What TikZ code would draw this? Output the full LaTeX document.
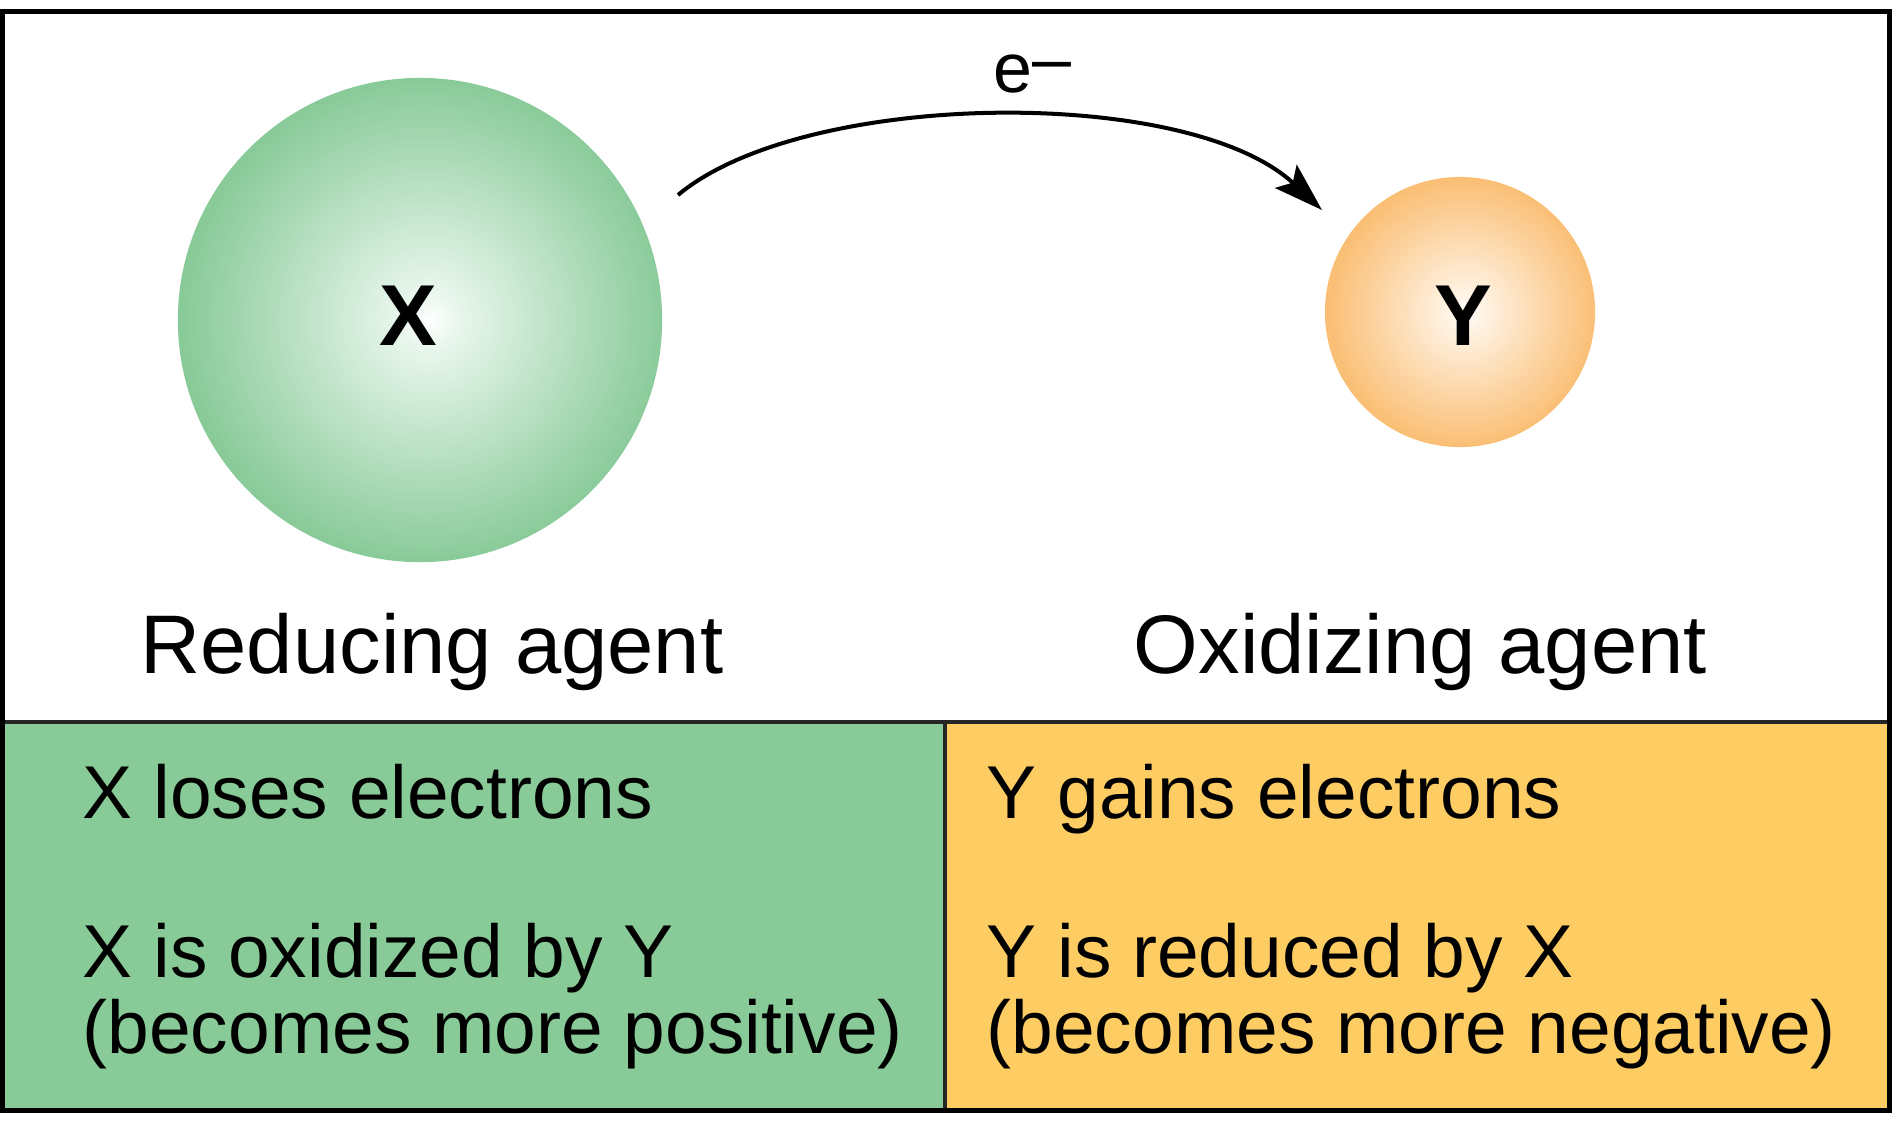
\documentclass[tikz,border=0pt]{standalone}
\usepackage{fontspec}
\setmainfont{Liberation Sans}
\usetikzlibrary{arrows.meta}
\definecolor{gpanel}{RGB}{136,203,152}
\definecolor{opanel}{RGB}{253,204,98}
\definecolor{gedge}{RGB}{137,202,153}
\definecolor{oedge}{RGB}{250,190,116}
\definecolor{gmid}{RGB}{232,246,236}
\definecolor{omid}{RGB}{255,244,230}
\pgfdeclareradialshading{gball}{\pgfpoint{1bp}{0bp}}{color(0bp)=(white); color(3bp)=(gmid); color(25bp)=(gedge); color(50bp)=(gedge)}
\pgfdeclareradialshading{oball}{\pgfpoint{1bp}{0bp}}{color(0bp)=(white); color(3bp)=(omid); color(25bp)=(oedge); color(50bp)=(oedge)}
\begin{document}
\begin{tikzpicture}[x=0.01cm,y=-0.01cm,
  framebox/.style={draw=black,line width=1.42pt},
  divider/.style={draw=black!85,line width=1pt},
  ball/.style={circle,inner sep=0pt,draw=none},
  balllabel/.style={font=\fontsize{24.6pt}{28pt}\selectfont\bfseries,anchor=base,inner sep=0pt},
  agent/.style={font=\fontsize{23.65pt}{28pt}\selectfont,anchor=base west,inner sep=0pt},
  btext/.style={font=\fontsize{21.3pt}{25pt}\selectfont,anchor=base west,inner sep=0pt},
  elabel/.style={font=\fontsize{19.9pt}{24pt}\selectfont,anchor=base west,inner sep=0pt},
  electron/.style={draw=black,line width=1.14pt,-{Stealth[length=14pt,width=9pt,inset=2.6pt]}}]
\useasboundingbox (0,0) rectangle (1894,1120);
\fill[white] (0,0) rectangle (1894,1120);
% bottom panels
\fill[gpanel] (2.5,722) rectangle (945,1110.5);
\fill[opanel] (945,722) rectangle (1889,1110.5);
% spheres
\node[ball,minimum size=4.84cm,shading=gball] (X) at (420,320) {};
\node[ball,minimum size=2.70cm,shading=oball] (Y) at (1460,312) {};
\node[balllabel] (xlab) at (408,345) {X};
\node[balllabel] (ylab) at (1463,345) {Y};
% electron transfer arrow
\coordinate (a0) at (678,195);
\coordinate (a1) at (1322,210);
\draw[electron] (a0) .. controls (804,89.5) and (1188,85) .. (a1);
\node[elabel] (elab) at (993,92) {e\raisebox{0.13em}{–}};
% agent labels
\node[agent] (red) at (140,673) {Reducing agent};
\node[agent] (oxi) at (1133,673) {Oxidizing agent};
% panel texts
\node[btext] (l1) at (82,818) {X loses electrons};
\node[btext] (l2) at (82,977) {X is oxidized by Y};
\node[btext] (l3) at (82,1053) {(becomes more positive)};
\node[btext] (r1) at (986,818) {Y gains electrons};
\node[btext] (r2) at (986,977) {Y is reduced by X};
\node[btext] (r3) at (986,1053) {(becomes more negative)};
% lines and frame
\draw[divider] (2.5,722) -- (1889,722);
\draw[divider] (945,722) -- (945,1110.5);
\draw[framebox] (2.5,11.5) rectangle (1889,1110.5);
\end{tikzpicture}
\end{document}
